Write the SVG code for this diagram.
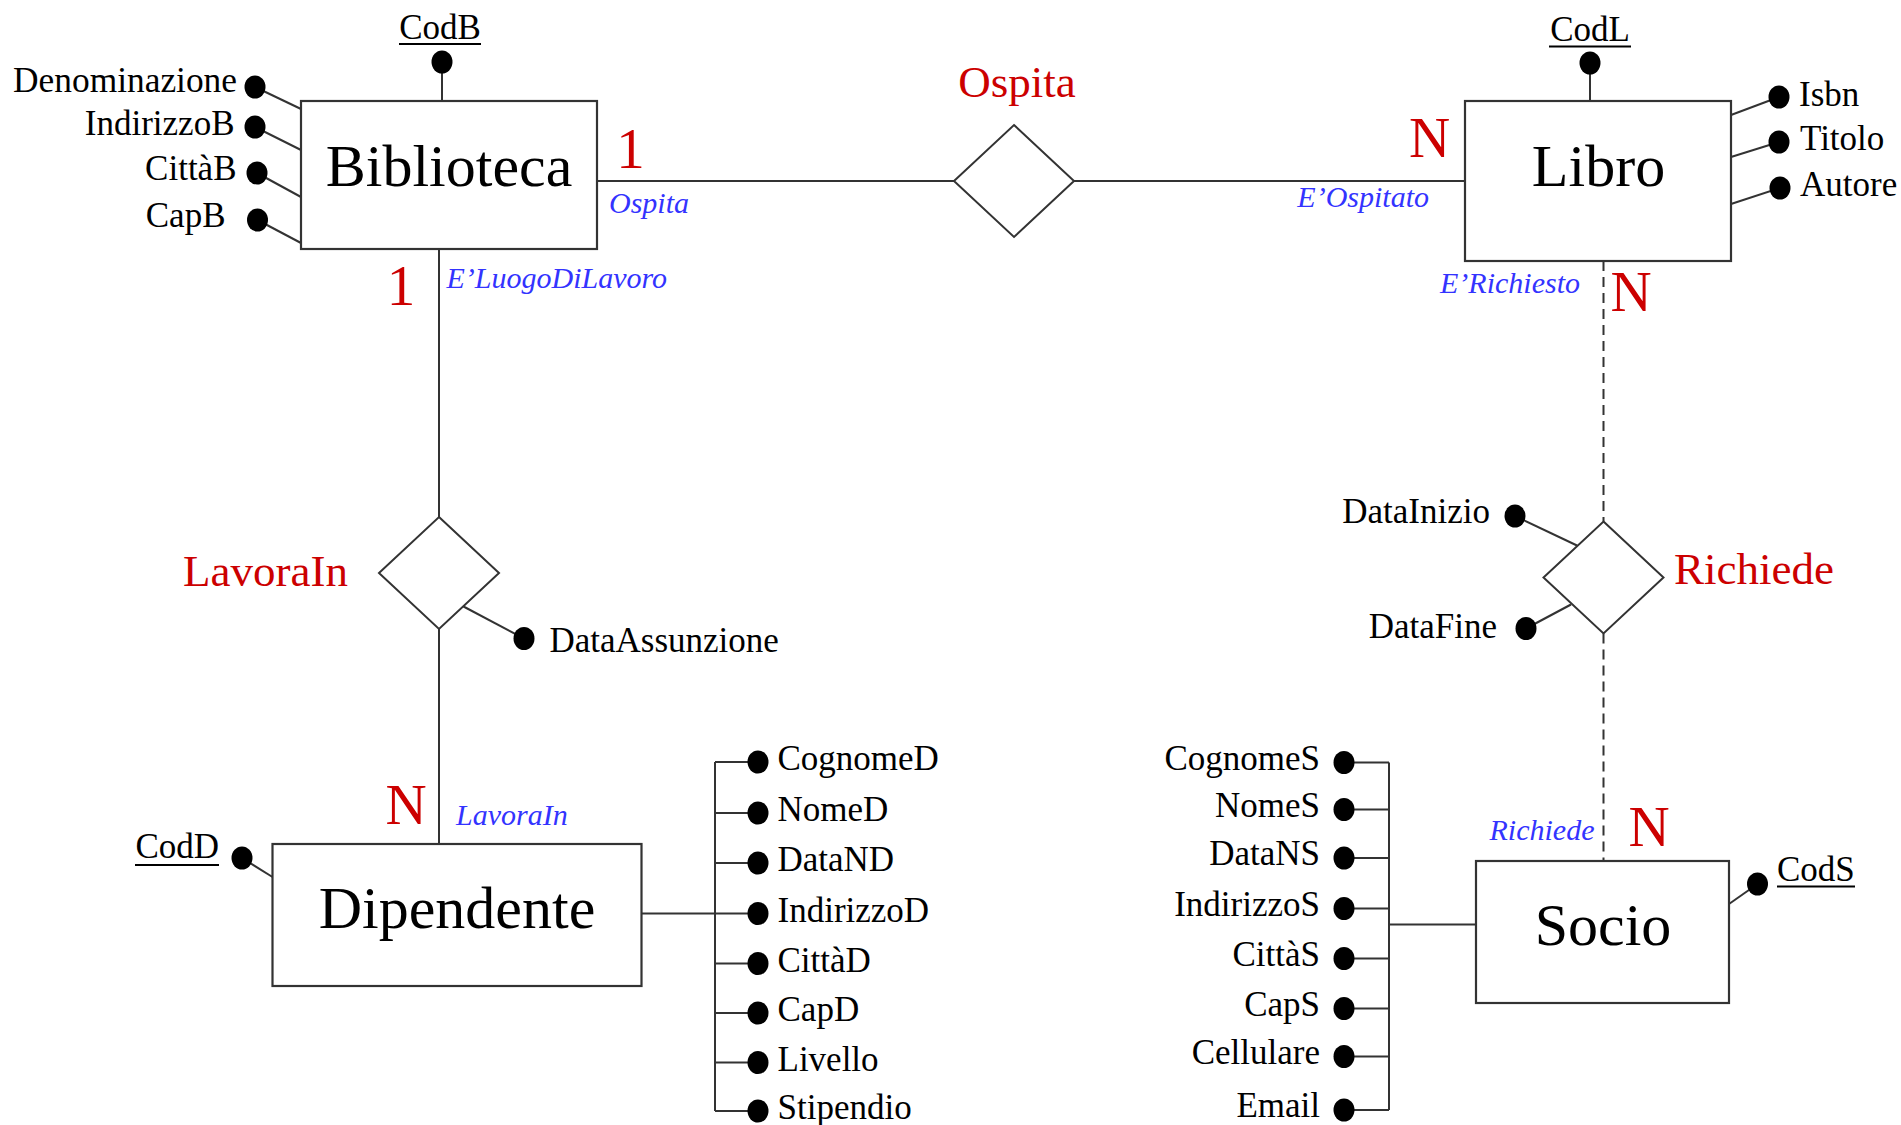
<svg xmlns="http://www.w3.org/2000/svg" width="1901" height="1125" viewBox="0 0 1901 1125">
<style>
.ent{fill:#fff;stroke:#333;stroke-width:2.2}
.rel{fill:#fff;stroke:#333;stroke-width:2}
.ln{stroke:#333;stroke-width:2;fill:none}
.dash{stroke:#333;stroke-width:2;fill:none;stroke-dasharray:10 6}
.dot{fill:#000}
.t{font-family:"Liberation Serif","Times New Roman",serif;fill:#000}
.en{font-size:60px;text-anchor:middle}
.at{font-size:35px}
.e{text-anchor:end}
.m{text-anchor:middle}
.rn{font-family:"Liberation Serif","Times New Roman",serif;font-size:45px;fill:#cc0000}
.card{font-family:"Liberation Serif","Times New Roman",serif;font-size:57px;fill:#cc0000;text-anchor:middle}
.role{font-family:"Liberation Serif","Times New Roman",serif;font-size:30px;font-style:italic;fill:#3333ff}
.ul{stroke:#000;stroke-width:1.8}
</style>
<rect width="1901" height="1125" fill="#fff"/>

<g id="connectors">
  <line class="ln" x1="597" y1="181" x2="954" y2="181"/>
  <line class="ln" x1="1074" y1="181" x2="1465" y2="181"/>
  <line class="ln" x1="439" y1="249" x2="439" y2="517"/>
  <line class="ln" x1="439" y1="629" x2="439" y2="844"/>
  <line class="dash" x1="1603.5" y1="261" x2="1603.5" y2="521.5"/>
  <line class="dash" x1="1603.5" y1="633.5" x2="1603.5" y2="861"/>
  <!-- Biblioteca attributes -->
  <line class="ln" x1="442" y1="62" x2="442" y2="101"/>
  <line class="ln" x1="255" y1="87" x2="301" y2="109"/>
  <line class="ln" x1="255" y1="127" x2="301" y2="150"/>
  <line class="ln" x1="257" y1="173" x2="301" y2="197"/>
  <line class="ln" x1="257.5" y1="220" x2="301" y2="243"/>
  <!-- Libro attributes -->
  <line class="ln" x1="1590" y1="63" x2="1590" y2="101"/>
  <line class="ln" x1="1779" y1="97" x2="1731" y2="115"/>
  <line class="ln" x1="1779" y1="142" x2="1731" y2="157"/>
  <line class="ln" x1="1780" y1="188" x2="1731" y2="204"/>
  <!-- LavoraIn attribute -->
  <line class="ln" x1="524" y1="638.5" x2="463.5" y2="606.5"/>
  <!-- Richiede attributes -->
  <line class="ln" x1="1515" y1="516" x2="1577" y2="545.5"/>
  <line class="ln" x1="1526" y1="628.5" x2="1571" y2="604.5"/>
  <!-- Dipendente attributes -->
  <line class="ln" x1="242" y1="858" x2="272.5" y2="877"/>
  <line class="ln" x1="642" y1="913.5" x2="715" y2="913.5"/>
  <line class="ln" x1="715" y1="762" x2="715" y2="1111"/>
  <path class="ln" d="M715 762H758M715 813H758M715 863H758M715 913.5H758M715 963.5H758M715 1013H758M715 1062.5H758M715 1111H758"/>
  <!-- Socio attributes -->
  <line class="ln" x1="1757.5" y1="884" x2="1729" y2="904"/>
  <line class="ln" x1="1389" y1="924.5" x2="1476" y2="924.5"/>
  <line class="ln" x1="1389" y1="762.5" x2="1389" y2="1110"/>
  <path class="ln" d="M1344 762.5H1389M1344 809.5H1389M1344 858H1389M1344 908.5H1389M1344 958.5H1389M1344 1008.5H1389M1344 1056.5H1389M1344 1110H1389"/>
</g>

<g id="Biblioteca">
  <rect class="ent" x="301" y="101" width="296" height="148"/>
  <text class="t en" x="449" y="186">Biblioteca</text>
</g>
<g id="Libro">
  <rect class="ent" x="1465" y="101" width="266" height="160"/>
  <text class="t en" x="1598.5" y="186">Libro</text>
</g>
<g id="Dipendente">
  <rect class="ent" x="272.5" y="844" width="369" height="142"/>
  <text class="t en" x="457" y="928">Dipendente</text>
</g>
<g id="Socio">
  <rect class="ent" x="1476" y="861" width="253" height="142"/>
  <text class="t en" x="1603" y="945">Socio</text>
</g>

<g id="Ospita">
  <polygon class="rel" points="1014,125 1074,181 1014,237 954,181"/>
  <text class="rn" x="1017" y="97" text-anchor="middle">Ospita</text>
</g>
<g id="LavoraIn">
  <polygon class="rel" points="439,517 499,573 439,629 379,573"/>
  <text class="rn" x="348" y="586" text-anchor="end">LavoraIn</text>
</g>
<g id="Richiede">
  <polygon class="rel" points="1603.5,521.5 1663.5,577.5 1603.5,633.5 1543.5,577.5"/>
  <text class="rn" x="1674" y="584">Richiede</text>
</g>

<g id="cardinalities">
  <text class="card" x="630.5" y="168">1</text>
  <text class="card" x="1429.5" y="157">N</text>
  <text class="card" x="401" y="305">1</text>
  <text class="card" x="406" y="824">N</text>
  <text class="card" x="1631" y="311">N</text>
  <text class="card" x="1649" y="846">N</text>
</g>

<g id="roles">
  <text class="role" x="609" y="213">Ospita</text>
  <text class="role" x="1429" y="207" text-anchor="end">E’Ospitato</text>
  <text class="role" x="446.5" y="288">E’LuogoDiLavoro</text>
  <text class="role" x="1580" y="293" text-anchor="end">E’Richiesto</text>
  <text class="role" x="456" y="825">LavoraIn</text>
  <text class="role" x="1594.5" y="840" text-anchor="end">Richiede</text>
</g>

<g id="attr-CodB">
  <ellipse class="dot" cx="442" cy="62" rx="10.5" ry="11.5"/>
  <text class="t at m" x="440" y="39">CodB</text>
  <line class="ul" x1="399" y1="44" x2="481" y2="44"/>
</g>
<g id="attr-Denominazione">
  <ellipse class="dot" cx="255" cy="87" rx="10.5" ry="11.5"/>
  <text class="t at e" x="237" y="92" textLength="224" lengthAdjust="spacingAndGlyphs">Denominazione</text>
</g>
<g id="attr-IndirizzoB">
  <ellipse class="dot" cx="255" cy="127" rx="10.5" ry="11.5"/>
  <text class="t at e" x="234.5" y="135">IndirizzoB</text>
</g>
<g id="attr-CittaB">
  <ellipse class="dot" cx="257" cy="173" rx="10.5" ry="11.5"/>
  <text class="t at e" x="236.5" y="180">CittàB</text>
</g>
<g id="attr-CapB">
  <ellipse class="dot" cx="257.5" cy="220" rx="10.5" ry="11.5"/>
  <text class="t at e" x="225.5" y="227">CapB</text>
</g>

<g id="attr-CodL">
  <ellipse class="dot" cx="1590" cy="63" rx="10.5" ry="11.5"/>
  <text class="t at m" x="1590" y="41">CodL</text>
  <line class="ul" x1="1549" y1="46.5" x2="1631" y2="46.5"/>
</g>
<g id="attr-Isbn">
  <ellipse class="dot" cx="1779" cy="97" rx="10.5" ry="11.5"/>
  <text class="t at" x="1799" y="106">Isbn</text>
</g>
<g id="attr-Titolo">
  <ellipse class="dot" cx="1779" cy="142" rx="10.5" ry="11.5"/>
  <text class="t at" x="1800" y="150">Titolo</text>
</g>
<g id="attr-Autore">
  <ellipse class="dot" cx="1780" cy="188" rx="10.5" ry="11.5"/>
  <text class="t at" x="1800" y="196">Autore</text>
</g>

<g id="attr-DataAssunzione">
  <ellipse class="dot" cx="524" cy="638.5" rx="10.5" ry="11.5"/>
  <text class="t at" x="549.5" y="652">DataAssunzione</text>
</g>
<g id="attr-DataInizio">
  <ellipse class="dot" cx="1515" cy="516" rx="10.5" ry="11.5"/>
  <text class="t at e" x="1490" y="523">DataInizio</text>
</g>
<g id="attr-DataFine">
  <ellipse class="dot" cx="1526" cy="628.5" rx="10.5" ry="11.5"/>
  <text class="t at e" x="1497" y="638">DataFine</text>
</g>

<g id="attr-CodD">
  <ellipse class="dot" cx="242" cy="858" rx="10.5" ry="11.5"/>
  <text class="t at e" x="219" y="858">CodD</text>
  <line class="ul" x1="135" y1="865" x2="219" y2="865"/>
</g>
<g id="attrs-Dipendente">
  <ellipse class="dot" cx="758" cy="762" rx="10.5" ry="11.5"/>
  <text class="t at" x="777.5" y="770">CognomeD</text>
  <ellipse class="dot" cx="758" cy="813" rx="10.5" ry="11.5"/>
  <text class="t at" x="777.5" y="821">NomeD</text>
  <ellipse class="dot" cx="758" cy="863" rx="10.5" ry="11.5"/>
  <text class="t at" x="777.5" y="871">DataND</text>
  <ellipse class="dot" cx="758" cy="913.5" rx="10.5" ry="11.5"/>
  <text class="t at" x="777.5" y="921.5">IndirizzoD</text>
  <ellipse class="dot" cx="758" cy="963.5" rx="10.5" ry="11.5"/>
  <text class="t at" x="777.5" y="971.5">CittàD</text>
  <ellipse class="dot" cx="758" cy="1013" rx="10.5" ry="11.5"/>
  <text class="t at" x="777.5" y="1021">CapD</text>
  <ellipse class="dot" cx="758" cy="1062.5" rx="10.5" ry="11.5"/>
  <text class="t at" x="777.5" y="1070.5">Livello</text>
  <ellipse class="dot" cx="758" cy="1111" rx="10.5" ry="11.5"/>
  <text class="t at" x="777.5" y="1119">Stipendio</text>
</g>

<g id="attr-CodS">
  <ellipse class="dot" cx="1757.5" cy="884" rx="10.5" ry="11.5"/>
  <text class="t at" x="1777" y="880.5">CodS</text>
  <line class="ul" x1="1777" y1="886.5" x2="1855" y2="886.5"/>
</g>
<g id="attrs-Socio">
  <ellipse class="dot" cx="1344" cy="762.5" rx="10.5" ry="11.5"/>
  <text class="t at e" x="1320" y="769.5">CognomeS</text>
  <ellipse class="dot" cx="1344" cy="809.5" rx="10.5" ry="11.5"/>
  <text class="t at e" x="1320" y="816.5">NomeS</text>
  <ellipse class="dot" cx="1344" cy="858" rx="10.5" ry="11.5"/>
  <text class="t at e" x="1320" y="865">DataNS</text>
  <ellipse class="dot" cx="1344" cy="908.5" rx="10.5" ry="11.5"/>
  <text class="t at e" x="1320" y="915.5">IndirizzoS</text>
  <ellipse class="dot" cx="1344" cy="958.5" rx="10.5" ry="11.5"/>
  <text class="t at e" x="1320" y="965.5">CittàS</text>
  <ellipse class="dot" cx="1344" cy="1008.5" rx="10.5" ry="11.5"/>
  <text class="t at e" x="1320" y="1015.5">CapS</text>
  <ellipse class="dot" cx="1344" cy="1056.5" rx="10.5" ry="11.5"/>
  <text class="t at e" x="1320" y="1063.5">Cellulare</text>
  <ellipse class="dot" cx="1344" cy="1110" rx="10.5" ry="11.5"/>
  <text class="t at e" x="1320" y="1117">Email</text>
</g>
</svg>
